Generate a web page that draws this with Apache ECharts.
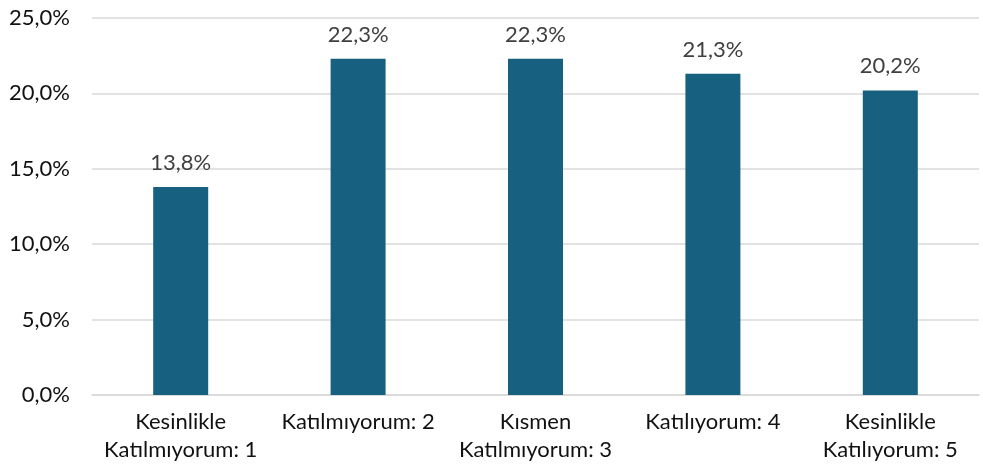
<!DOCTYPE html>
<html>
<head>
<meta charset="utf-8">
<script src="https://cdn.jsdelivr.net/npm/echarts@6/dist/echarts.min.js"></script>
<style>
  html, body { margin: 0; padding: 0; background: #fff; }
  #chart { width: 983px; height: 473px; }
</style>
</head>
<body>
<div id="chart"></div>
<script>
// Response categories (Likert scale) and their shares in percent
const categories = [
  'Kesinlikle\nKatılmıyorum: 1',
  'Katılmıyorum: 2',
  'Kısmen\nKatılmıyorum: 3',
  'Katılıyorum: 4',
  'Kesinlikle\nKatılıyorum: 5'
];
const shares = [13.8, 22.3, 22.3, 21.3, 20.2];
const yMin = 0;
const yMax = 25;
const yStep = 5;

const fmt = v => v.toFixed(1).replace('.', ',') + '%';
const fontFamily = 'Lato, "Open Sans", sans-serif';

const chart = echarts.init(document.getElementById('chart'));
chart.setOption({
  animation: false,
  grid: { left: 92, right: 4, top: 18, bottom: 78, containLabel: false },
  xAxis: {
    type: 'category',
    data: categories,
    axisTick: { show: false },
    axisLine: { show: true, lineStyle: { color: '#d9d9d9', width: 1.5 } },
    axisLabel: {
      color: '#111', fontSize: 22, fontFamily, lineHeight: 28, margin: 13, interval: 0
    }
  },
  yAxis: {
    type: 'value',
    min: yMin, max: yMax, interval: yStep,
    axisLine: { show: false },
    axisTick: { show: false },
    splitLine: { lineStyle: { color: '#d9d9d9', width: 1.5 } },
    axisLabel: {
      color: '#111', fontSize: 22, fontFamily, margin: 22,
      formatter: v => fmt(v)
    }
  },
  series: [{
    type: 'bar',
    data: shares,
    barWidth: '31%',
    itemStyle: { color: '#17607f' },
    label: {
      show: true, position: 'top', distance: 13,
      color: '#404040', fontSize: 22, fontFamily,
      formatter: p => fmt(p.value)
    }
  }]
});
</script>
</body>
</html>
